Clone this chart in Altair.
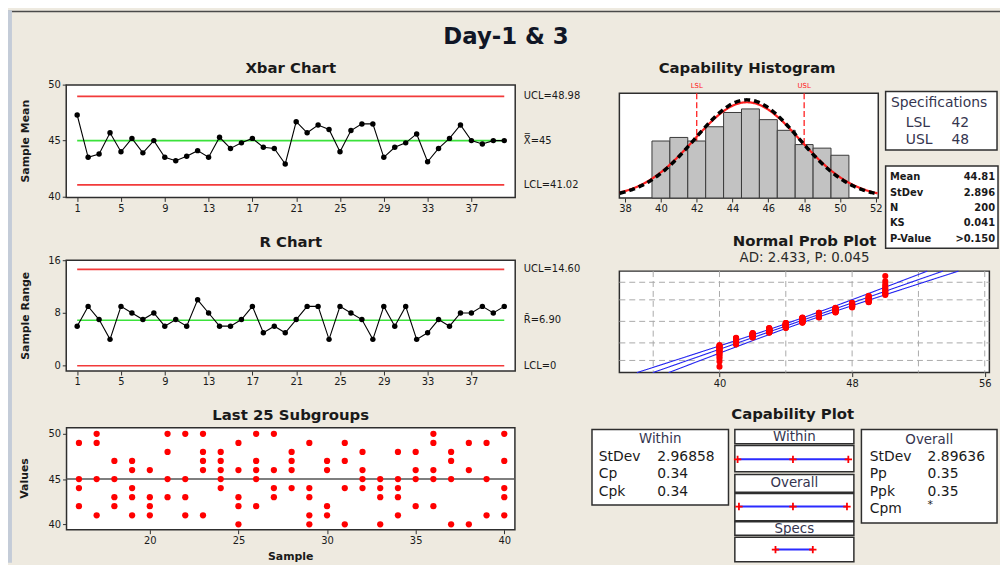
import altair as alt
import pandas as pd

# ---------------- values ----------------
chart_title = "Day-1 & 3"

samples = list(range(1, 41))
xbar_means = [47.3, 43.5, 43.8, 45.7, 44.0, 45.2, 43.9, 45.0, 43.5, 43.2,
              43.6, 44.1, 43.5, 45.3, 44.3, 44.8, 45.2, 44.4, 44.3, 42.9,
              46.7, 45.7, 46.4, 46.0, 44.0, 45.9, 46.5, 46.5, 43.5, 44.4,
              44.8, 45.6, 43.1, 44.3, 45.2, 46.4, 45.0, 44.7, 45.0, 45.0]
xbar_ucl, xbar_cl, xbar_lcl = 48.98, 45.0, 41.02
xbar_labels = ["UCL=48.98", "X\u033f=45", "LCL=41.02"]

r_ranges = [6, 9, 7, 4, 9, 8, 7, 8, 6, 7, 6, 10, 8, 6, 6, 7, 9, 5, 6, 5,
            7, 9, 9, 4, 9, 8, 7, 4, 9, 6, 9, 4, 5, 7, 6, 8, 8, 9, 8, 9]
r_ucl, r_cl, r_lcl = 14.60, 6.90, 0.0
r_labels = ["UCL=14.60", "R\u0304=6.90", "LCL=0"]

sample_ticks = [1, 5, 9, 13, 17, 21, 25, 29, 33, 37]
xbar_ticks = [40, 45, 50]
r_ticks = [0, 8, 16]

last_samples = list(range(16, 41))
last_values = [
    [49, 45, 44, 42], [50, 49, 45, 41], [47, 45, 43, 42], [47, 46, 44, 43, 41],
    [46, 43, 42, 41], [50, 48, 45, 43], [50, 45, 43, 41], [50, 48, 47, 46, 41],
    [48, 47, 46, 45, 44], [49, 46, 43, 42, 40], [50, 47, 46, 45, 42],
    [50, 46, 44, 43], [48, 47, 46, 44], [49, 44, 43, 41, 40], [47, 46, 42, 41],
    [49, 47, 44, 40], [48, 46, 45, 44], [45, 44, 43, 40], [48, 45, 44, 43, 41],
    [48, 46, 45, 42], [50, 49, 46, 45, 42], [48, 47, 45, 40], [49, 46, 40],
    [49, 45, 41], [50, 47, 44, 43, 41],
]
last_x_ticks = [20, 25, 30, 35, 40]
last_y_ticks = [40, 45, 50]

hist_bins = list(range(40, 51))
hist_counts = [16, 17, 16, 20, 24, 25, 22, 19, 15, 14, 12]
hist_ticks = [38, 40, 42, 44, 46, 48, 50, 52]
lsl, usl = 42, 48
mean_value = 44.81
n_obs = 200
sd_within = 2.96858
sd_overall = 2.89636
stats_names = ["Mean", "StDev", "N", "KS", "P-Value"]
stats_texts = ["44.81", "2.896", "200", "0.041", ">0.150"]

ad_text = "AD: 2.433, P: 0.045"
prob_grid_pct = [1, 10, 50, 90, 99]
prob_grid_x = [36, 40, 44, 48, 52, 56]
prob_ticks = [40, 48, 56]

within_names = ["StDev", "Cp", "Cpk"]
within_texts = ["2.96858", "0.34", "0.34"]
overall_names = ["StDev", "Pp", "Ppk", "Cpm"]
overall_texts = ["2.89636", "0.35", "0.35", "*"]

# ---------------- layout / style ----------------
W, H = 1000, 557
M = 8


def px(v):
    return v - M


FONT = "DejaVu Sans"
INK = "#1a1a1a"
FRAME = "#2e2e2e"
RED = "#F23A3A"
GREEN = "#3BE23B"
BG = "#EEEAE0"
BOXINK = "#35354f"
ONE = alt.Data(values=[{"k": 0}])


def lin(domain, rng):
    return alt.Scale(domain=list(domain), range=[px(r) for r in rng], nice=False, zero=False)


def axis(orient, at, values):
    off = px(at) - H if orient == "bottom" else -px(at)
    return alt.Axis(orient=orient, offset=off, values=values, domain=False, grid=False,
                    ticks=True, tickSize=4, tickColor=FRAME, tickWidth=1,
                    labelFont=FONT, labelFontSize=10, labelColor=INK, labelPadding=2,
                    title=None, labelOverlap=False, labelFlush=False)


def text(s, x, y, size=10, weight="normal", align="center", color=INK, angle=None):
    kw = dict(text=s, font=FONT, fontSize=size, fontWeight=weight, align=align,
              baseline="middle", color=color)
    if angle is not None:
        kw["angle"] = angle
    return alt.Chart(ONE).mark_text(**kw).encode(x=alt.value(px(x)), y=alt.value(px(y)))


def box(x0, x1, y0, y1, fill="white", sw=1.5):
    return alt.Chart(ONE).mark_rect(fill=fill, stroke=FRAME, strokeWidth=sw).encode(
        x=alt.value(px(x0)), x2=alt.value(px(x1)), y=alt.value(px(y0)), y2=alt.value(px(y1)))


L = []

# decorations of the window
L.append(alt.Chart(ONE).mark_rule(color="#4a4a4a", strokeWidth=1.5).encode(
    x=alt.value(0), x2=alt.value(W), y=alt.value(1.3)))
L.append(alt.Chart(ONE).mark_rule(color="#C4CCD8", strokeWidth=4).encode(
    x=alt.value(2), y=alt.value(0), y2=alt.value(H)))
L.append(text(chart_title, 510, 35, 23, "bold", color="#101626"))

# ---------------- Xbar and R charts ----------------
SAx = lin([0, 41], (66.7, 519.3))


def control_panel(values, center, ucl, lcl, labels, y_scale, y_ticks, fy0, fy1):
    out = [box(66.7, 519.3, fy0, fy1)]
    df = pd.DataFrame({"sample": samples, "v": values})
    lim = pd.DataFrame({"y": [ucl, lcl], "x0": samples[0], "x1": samples[-1]})
    cl = pd.DataFrame({"y": [center], "x0": samples[0], "x1": samples[-1]})
    for d, col in ((lim, RED), (cl, GREEN)):
        out.append(alt.Chart(d).mark_rule(color=col, strokeWidth=1.7).encode(
            x=alt.X("x0:Q", scale=SAx, axis=None), x2="x1:Q",
            y=alt.Y("y:Q", scale=y_scale, axis=None)))
    out.append(alt.Chart(df).mark_line(color="black", strokeWidth=1.1).encode(
        x=alt.X("sample:Q", scale=SAx, axis=None), y=alt.Y("v:Q", scale=y_scale, axis=None)))
    out.append(alt.Chart(df).mark_point(filled=True, size=30, color="black", opacity=1).encode(
        x=alt.X("sample:Q", scale=SAx, axis=axis("bottom", fy1, sample_ticks)),
        y=alt.Y("v:Q", scale=y_scale, axis=axis("left", 66.7, y_ticks))))
    lab = pd.DataFrame({"y": [ucl, center, lcl], "t": labels})
    out.append(alt.Chart(lab).mark_text(align="left", baseline="middle", font=FONT,
                                        fontSize=10, color=INK).encode(
        x=alt.value(px(528)), y=alt.Y("y:Q", scale=y_scale, axis=None), text="t:N"))
    return out


L += control_panel(xbar_means, xbar_cl, xbar_ucl, xbar_lcl, xbar_labels,
                   lin([39.9, 50], (196.7, 83.3)), xbar_ticks, 83.3, 196.7)
L.append(text("Xbar Chart", 293, 66, 15, "bold"))
L.append(text("Sample Mean", 26, 140, 11, "bold", angle=270))

L += control_panel(r_ranges, r_cl, r_ucl, r_lcl, r_labels,
                   lin([-0.8, 16], (371.7, 260)), r_ticks, 260, 371.7)
L.append(text("R Chart", 293, 242, 15, "bold"))
L.append(text("Sample Range", 26, 316, 11, "bold", angle=270))

# ---------------- Last 25 subgroups ----------------
SCx = lin([15.3, 40.6], (67, 519))
SCy = lin([39.4, 50.66], (531.7, 429))
rows = [(s, v) for s, vals in zip(last_samples, last_values) for v in vals]
dfC = pd.DataFrame(rows, columns=["sample", "v"])
L.append(box(67, 519, 429, 531.7))
L.append(alt.Chart(pd.DataFrame({"y": [xbar_cl]})).mark_rule(color="#555555", strokeWidth=1.6).encode(
    x=alt.value(px(67)), x2=alt.value(px(519)), y=alt.Y("y:Q", scale=SCy, axis=None)))
L.append(alt.Chart(dfC).mark_circle(size=40, color="#FF0000", opacity=1).encode(
    x=alt.X("sample:Q", scale=SCx, axis=axis("bottom", 531.7, last_x_ticks)),
    y=alt.Y("v:Q", scale=SCy, axis=axis("left", 67, last_y_ticks))))
L.append(text("Last 25 Subgroups", 293, 416, 15, "bold"))
L.append(text("Values", 25, 480, 11, "bold", angle=270))
L.append(text("Sample", 293, 559, 11, "bold"))

# ---------------- Capability histogram ----------------
SDx = lin([37.68, 52.14], (624.3, 885.3))
SDy = lin([0, 29.4], (197.3, 91.7))
L.append(box(624.3, 885.3, 91.7, 197.3))
spec_df = pd.DataFrame({"x": [lsl, usl], "t": ["LSL", "USL"]})
L.append(alt.Chart(spec_df).mark_rule(color="#FF2020", strokeWidth=1.3, strokeDash=[6, 3]).encode(
    x=alt.X("x:Q", scale=SDx, axis=None), y=alt.value(px(91.7)), y2=alt.value(px(197.3))))
L.append(alt.Chart(spec_df).mark_text(font=FONT, fontSize=7, color="#FF2020", baseline="middle").encode(
    x=alt.X("x:Q", scale=SDx, axis=None), y=alt.value(px(84.5)), text="t:N"))
hist_df = pd.DataFrame({"bin": hist_bins, "count": hist_counts})
L.append(alt.Chart(hist_df).transform_calculate(
    lo="datum.bin - 0.5", hi="datum.bin + 0.5", base="0").mark_rect(
    fill="#C2C2C2", stroke="#3a3a3a", strokeWidth=1).encode(
    x=alt.X("lo:Q", scale=SDx, axis=axis("bottom", 197.3, hist_ticks)), x2="hi:Q",
    y=alt.Y("count:Q", scale=SDy, axis=None), y2="base:Q"))
curve = alt.Chart(alt.sequence(37.7, 52.14, 0.05, as_="x")).transform_calculate(
    within=f"{n_obs}*densityNormal(datum.x, {mean_value}, {sd_within})",
    overall=f"{n_obs}*densityNormal(datum.x, {mean_value}, {sd_overall})")
L.append(curve.mark_line(color="#FF2020", strokeWidth=2.2).encode(
    x=alt.X("x:Q", scale=SDx, axis=None), y=alt.Y("within:Q", scale=SDy, axis=None)))
L.append(curve.mark_line(color="black", strokeWidth=3.5, strokeDash=[6, 4]).encode(
    x=alt.X("x:Q", scale=SDx, axis=None), y=alt.Y("overall:Q", scale=SDy, axis=None)))
L.append(text("Capability Histogram", 753, 66, 15, "bold"))

# specification and statistics boxes
L.append(box(892.7, 1005, 90, 149, sw=1.5))
L.append(text("Specifications", 898, 101.7, 14, color=BOXINK, align="left"))
L.append(text("LSL", 913, 121.5, 14, color=BOXINK, align="left"))
L.append(text(str(lsl), 959, 121.5, 14, color=BOXINK, align="left"))
L.append(text("USL", 913, 138.5, 14, color=BOXINK, align="left"))
L.append(text(str(usl), 959, 138.5, 14, color=BOXINK, align="left"))
L.append(box(892.7, 1006, 165, 248, sw=1.5))
for i, (nm, tv) in enumerate(zip(stats_names, stats_texts)):
    yy = 176.5 + 15.5 * i
    L.append(text(nm, 897, yy, 10, "bold", align="left"))
    L.append(text(tv, 1003, yy, 10, "bold", align="right"))

# ---------------- Normal probability plot ----------------
SEx = lin([33.96, 56.28], (624.3, 997.3))
SEy = lin([-3.05, 2.99], (373.3, 271))
L.append(box(624.3, 997.3, 271, 373.3))
L.append(alt.Chart(pd.DataFrame({"x": prob_grid_x})).mark_rule(
    color="#A9A9A9", strokeWidth=1, strokeDash=[6, 4]).encode(
    x=alt.X("x:Q", scale=SEx, axis=None), y=alt.value(px(271)), y2=alt.value(px(373.3))))
L.append(alt.Chart(pd.DataFrame({"p": prob_grid_pct})).transform_calculate(
    z="quantileNormal(datum.p / 100)").mark_rule(
    color="#A9A9A9", strokeWidth=1, strokeDash=[6, 4]).encode(
    y=alt.Y("z:Q", scale=SEy, axis=None), x=alt.value(px(624.3)), x2=alt.value(px(997.3))))
fit = alt.Chart(alt.sequence(-3.05, 2.995, 0.01, as_="z")).transform_calculate(
    fit=f"{mean_value} + {sd_overall}*datum.z",
    hw=f"1.96*{sd_overall}*sqrt(1/{n_obs} + datum.z*datum.z/(2*({n_obs}-1)))").transform_calculate(
    lower="datum.fit - datum.hw", upper="datum.fit + datum.hw").transform_fold(
    ["fit", "lower", "upper"], as_=["which", "val"])
L.append(fit.mark_line(color="#2424F0", strokeWidth=1.1).encode(
    x=alt.X("val:Q", scale=SEx, axis=None), y=alt.Y("z:Q", scale=SEy, axis=None),
    detail="which:N", order="z:Q"))
raw = [v for v, c in zip(hist_bins, hist_counts) for _ in range(c)]
L.append(alt.Chart(pd.DataFrame({"v": raw})).transform_window(
    rank="row_number()", sort=[alt.SortField("v", order="ascending")]).transform_calculate(
    z=f"quantileNormal((datum.rank - 0.3) / ({n_obs} + 0.4))").mark_circle(
    size=38, color="#FF0000", opacity=1).encode(
    x=alt.X("v:Q", scale=SEx, axis=axis("bottom", 373.3, prob_ticks)),
    y=alt.Y("z:Q", scale=SEy, axis=None)))
L.append(text("Normal Prob Plot", 811, 241, 15, "bold"))
L.append(text(ad_text, 811, 258, 13.5, color="#2a2a2a"))

# ---------------- Capability plot ----------------
SFx = lin([35.46, 54.61], (740.7, 860.7))
L.append(text("Capability Plot", 799, 415, 15, "bold"))
L.append(box(596.7, 734.3, 430.7, 506.7))
L.append(text("Within", 665.5, 440, 13.5, color=BOXINK))
for i, (nm, tv) in enumerate(zip(within_names, within_texts)):
    yy = 458.3 + 17.5 * i
    L.append(text(nm, 603.5, yy, 14, align="left"))
    L.append(text(tv, 662.5, yy, 14, align="left"))
L.append(box(868.3, 1005, 430.7, 525))
L.append(text("Overall", 936.7, 441, 13.5, color=BOXINK))
for i, (nm, tv) in enumerate(zip(overall_names, overall_texts)):
    yy = 458.3 + 17.6 * i
    L.append(text(nm, 876.7, yy, 14, align="left"))
    L.append(text(tv, 935, yy - (4 if tv == "*" else 0), 14 if tv != "*" else 11, align="left"))

for (h0, h1, c0, c1, name) in [(430.7, 445, 446.7, 473.3, "Within"),
                               (476, 494, 495.3, 522.7, "Overall"),
                               (523.7, 537.3, 539.3, 564, "Specs")]:
    L.append(box(740.7, 860.7, h0, h1))
    L.append(box(740.7, 860.7, c0, c1))
    L.append(text(name, 800.7, (h0 + h1) / 2, 13.5, color=BOXINK))

CROSS = "M-1,0L1,0M0,-1L0,1"


def cap_line(df, ypix, keys):
    out = [alt.Chart(df).mark_rule(color="#2B2BFF", strokeWidth=2).encode(
        x=alt.X("lo:Q", scale=SFx, axis=None), x2="hi:Q", y=alt.value(px(ypix)))]
    out.append(alt.Chart(df).transform_fold(keys, as_=["k", "xv"]).mark_point(
        shape=CROSS, filled=False, color="#FF0000", strokeWidth=1.8, size=55, opacity=1).encode(
        x=alt.X("xv:Q", scale=SFx, axis=None), y=alt.value(px(ypix))))
    return out


for sd, ypix in ((sd_within, 460.7), (sd_overall, 508.3)):
    d = alt.Data(values=[{"mid": mean_value, "sd": sd}])
    base = alt.Chart(d).transform_calculate(lo="datum.mid - 3*datum.sd", hi="datum.mid + 3*datum.sd")
    L.append(base.mark_rule(color="#2B2BFF", strokeWidth=2).encode(
        x=alt.X("lo:Q", scale=SFx, axis=None), x2="hi:Q", y=alt.value(px(ypix))))
    L.append(base.transform_fold(["lo", "mid", "hi"], as_=["k", "xv"]).mark_point(
        shape=CROSS, filled=False, color="#FF0000", strokeWidth=1.8, size=55, opacity=1).encode(
        x=alt.X("xv:Q", scale=SFx, axis=None), y=alt.value(px(ypix))))
L += cap_line(pd.DataFrame({"lo": [lsl], "hi": [usl]}), 551.7, ["lo", "hi"])

chart = alt.layer(*L).resolve_scale(x="independent", y="independent").properties(
    width=W, height=H, padding=0, autosize=alt.AutoSizeParams(type="none")
).configure(background=BG).configure_view(stroke="transparent")

chart.save("out.html", embed_options={"renderer": "svg", "actions": False})
